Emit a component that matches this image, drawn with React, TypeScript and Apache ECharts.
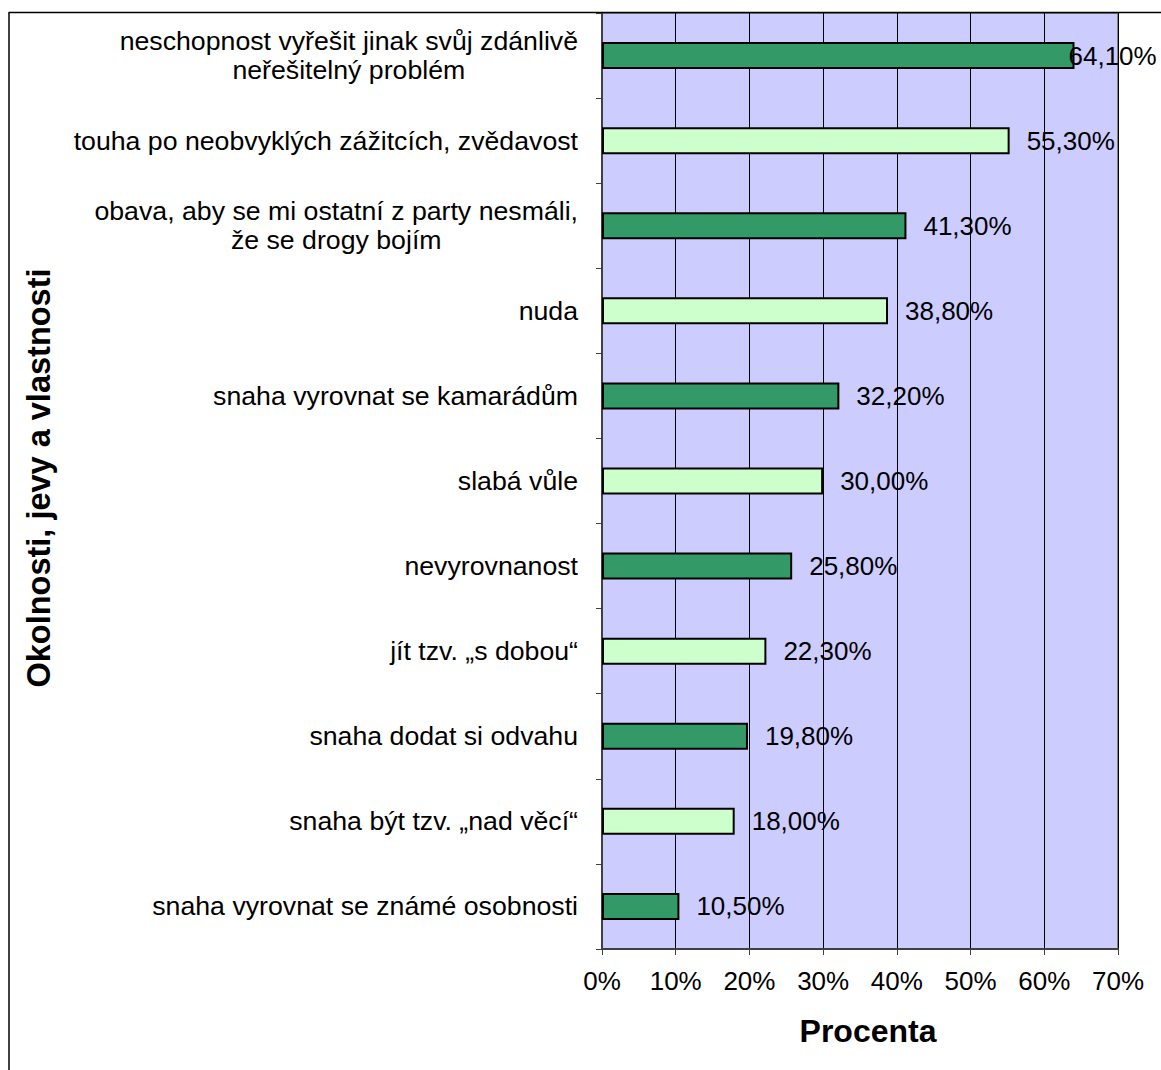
import React, { useEffect, useRef } from "react";
import * as echarts from "echarts";

const categories: string[] = [
  "neschopnost vyřešit jinak svůj zdánlivě\nneřešitelný problém",
  "touha po neobvyklých zážitcích, zvědavost",
  "obava, aby se mi ostatní z party nesmáli,\nže se drogy bojím",
  "nuda",
  "snaha vyrovnat se kamarádům",
  "slabá vůle",
  "nevyrovnanost",
  "jít tzv. „s dobou“",
  "snaha dodat si odvahu",
  "snaha být tzv. „nad věcí“",
  "snaha vyrovnat se známé osobnosti",
];

const values: number[] = [64.1, 55.3, 41.3, 38.8, 32.2, 30.0, 25.8, 22.3, 19.8, 18.0, 10.5];

const xTicks: number[] = [0, 10, 20, 30, 40, 50, 60, 70];

const xAxisTitle = "Procenta";
const yAxisTitle = "Okolnosti, jevy a vlastnosti";

const FONT = "'Liberation Sans', Arial, sans-serif";
const DARK = "#339966";
const LIGHT = "#CCFFCC";

const fmt = (v: number) => v.toFixed(2).replace(".", ",") + "%";

export default function App() {
  const ref = useRef<HTMLDivElement>(null);

  useEffect(() => {
    if (!ref.current) return;
    const chart = echarts.init(ref.current, null, { renderer: "svg" });

    const data = values.map((v, i) => ({
      value: v,
      itemStyle: { color: i % 2 === 0 ? DARK : LIGHT },
      // the longest bar's label is pulled back so it stays on the page
      label: i === 0 ? { distance: -6 } : undefined,
    }));

    chart.setOption({
      animation: false,
      backgroundColor: "#ffffff",
      textStyle: { fontFamily: FONT },
      grid: {
        left: 602,
        right: 43,
        top: 13,
        bottom: 121,
        show: true,
        backgroundColor: "#CCCCFF",
        borderColor: "#808080",
        borderWidth: 2,
      },
      xAxis: {
        type: "value",
        min: xTicks[0],
        max: xTicks[xTicks.length - 1],
        interval: 10,
        axisLine: { show: true, lineStyle: { color: "#404040", width: 2 } },
        axisTick: { show: true, inside: false, length: 6, lineStyle: { color: "#404040", width: 1 } },
        splitLine: { show: true, lineStyle: { color: "#000000", width: 1 } },
        axisLabel: {
          formatter: (v: number) => v + "%",
          fontSize: 26,
          fontFamily: FONT,
          color: "#000000",
          margin: 19,
        },
        name: xAxisTitle,
        nameLocation: "middle",
        nameGap: 66,
        nameTextStyle: {
          fontSize: 32,
          fontWeight: "bold",
          fontFamily: FONT,
          color: "#000000",
          padding: [0, 0, 0, 16],
        },
      },
      yAxis: {
        type: "category",
        inverse: true,
        data: categories,
        axisLine: { show: true, lineStyle: { color: "#404040", width: 2 } },
        axisTick: { show: true, inside: false, length: 6, lineStyle: { color: "#404040", width: 1 } },
        splitLine: { show: false },
        axisLabel: {
          align: "right",
          margin: 24,
          formatter: (v: string) =>
            v
              .split("\n")
              .map((l) => "{c|" + l + "}")
              .join("\n"),
          rich: {
            c: {
              align: "center",
              fontSize: 26.7,
              fontFamily: FONT,
              color: "#000000",
              lineHeight: 29,
            },
          },
        },
        name: yAxisTitle,
        nameLocation: "middle",
        nameGap: 547,
        nameRotate: 90,
        nameTextStyle: {
          fontSize: 32.5,
          fontWeight: "bold",
          fontFamily: FONT,
          color: "#000000",
          padding: [0, 0, 0, 6],
        },
      },
      series: [
        {
          type: "bar",
          data,
          barWidth: 27,
          itemStyle: { borderColor: "#000000", borderWidth: 2 },
          label: {
            show: true,
            position: "right",
            distance: 17,
            formatter: (p: any) => fmt(p.value),
            fontSize: 26,
            fontFamily: FONT,
            color: "#000000",
          },
        },
      ],
      graphic: [
        {
          type: "line",
          z: 100,
          shape: { x1: 8.5, y1: 12.5, x2: 1161, y2: 12.5 },
          style: { stroke: "#000000", lineWidth: 1.5 },
        },
        {
          type: "line",
          z: 100,
          shape: { x1: 9, y1: 12.5, x2: 9, y2: 1070 },
          style: { stroke: "#000000", lineWidth: 1.5 },
        },
      ],
    });

    return () => chart.dispose();
  }, []);

  return (
    <div
      ref={ref}
      style={{ position: "absolute", left: 0, top: 0, width: 1161, height: 1070 }}
    />
  );
}
